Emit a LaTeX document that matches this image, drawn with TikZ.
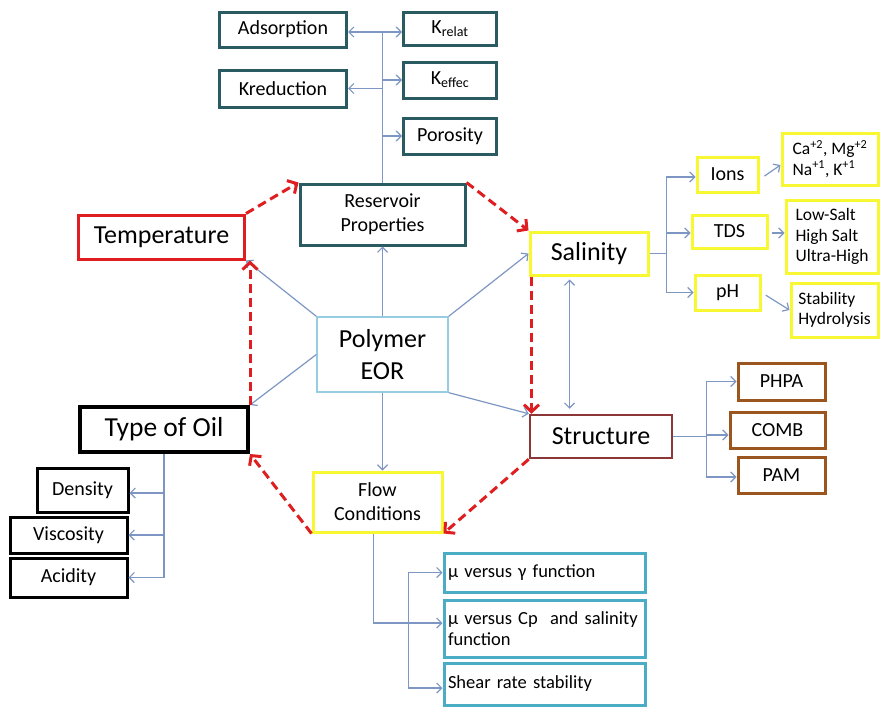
\documentclass[tikz,border=0pt]{standalone}
\usepackage{fontspec}
\setmainfont{Carlito}
\usepackage{tikz}
\usetikzlibrary{positioning, arrows.meta, calc}

\definecolor{resteal}{RGB}{42,90,98}
\definecolor{linkblue}{RGB}{125,150,195}
\definecolor{polyblue}{RGB}{150,205,225}
\definecolor{loopred}{RGB}{222,30,32}
\definecolor{salyellow}{RGB}{248,248,50}
\definecolor{structred}{RGB}{140,55,55}
\definecolor{typebrown}{RGB}{155,85,30}
\definecolor{mublue}{RGB}{75,172,198}

\tikzset{
	box/.style={rectangle, draw, inner sep=4pt, align=center},
	bluelink/.style={draw=linkblue, line width=1.2pt, -{Straight Barb[length=5pt,width=10pt]}},
	blueline/.style={draw=linkblue, line width=1.2pt},
	redlink/.style={draw=loopred, line width=3pt, dash pattern=on 9pt off 5pt,
		-{Straight Barb[length=7pt,width=15pt,line width=3pt]}},
	big/.style={font=\fontsize{26}{32}\selectfont},
	mid/.style={font=\fontsize{20}{24}\selectfont},
	small/.style={font=\fontsize{17.5}{20.5}\selectfont},
}

\begin{document}
\begin{tikzpicture}[x=1pt, y=-1pt]
			
			\useasboundingbox (0,0) rectangle (880,707);
			
			% Centre
			\node[box, big, draw=polyblue, line width=1.3pt, minimum width=131, minimum height=75] (poly) at (382.5,354.5) {Polymer\\EOR};
			
			% Main factors
			\node[box, mid, draw=resteal, line width=3pt, minimum width=165, minimum height=61] (res) at ($(poly) + (0,-140)$) {Reservoir\\Properties};
			
			\node[box, big, draw=loopred, line width=3pt, minimum width=166, minimum height=44] (temp) at ($(poly) + (-221,-117.5)$) {Temperature};
			
			\node[box, big, draw=salyellow, line width=3pt, minimum width=118, minimum height=43] (sal) at ($(poly) + (206.5,-101)$) {Salinity};
			
			\node[box, big, draw=structred, line width=2.5pt, minimum width=142, minimum height=43] (struct) at ($(poly) + (218.5,82)$) {Structure};
			
			\node[box, font=\fontsize{27.5}{32}\selectfont, draw=black, line width=4pt, minimum width=168, minimum height=45] (oil) at ($(poly) + (-218.5,75)$) {Type of Oil};
			
			\node[box, mid, draw=salyellow, line width=3pt, minimum width=129, minimum height=60] (flow) at ($(poly) + (-5,147.5)$) {Flow\\Conditions};
			
			
			% Reservoir properties
			\node[box, mid, draw=resteal, line width=3pt, minimum width=127, minimum height=35] (ads) at ($(res) + (-99.5,-185)$) {Adsorption};
			\node[box, mid, draw=resteal, line width=3pt, minimum width=127, minimum height=37] (kred) at ($(res) + (-99.5,-126)$) {Kreduction};
			\node[box, mid, draw=resteal, line width=3pt, minimum width=93, minimum height=33] (krel) at ($(res) + (67.5,-186)$) {K\textsubscript{relat}};
			\node[box, mid, draw=resteal, line width=3pt, minimum width=93, minimum height=36] (keff) at ($(res) + (67.5,-134.5)$) {K\textsubscript{effec}};
			\node[box, mid, draw=resteal, line width=3pt, minimum width=93, minimum height=36] (poro) at ($(res) + (67.5,-78.5)$) {Porosity};
			
			% Salinity
			\node[box, mid, draw=salyellow, line width=3pt, minimum width=61, minimum height=35] (ions) at ($(sal) + (138.5,-79)$) {Ions};
			\node[box, mid, draw=salyellow, line width=3pt, minimum width=75, minimum height=33] (tds) at ($(sal) + (140.5,-22)$) {TDS};
			\node[box, mid, draw=salyellow, line width=3pt, minimum width=65, minimum height=35] (ph) at ($(sal) + (138.5,39)$) {pH};
			
			\node[box, small, align=left, draw=salyellow, line width=3pt, minimum width=96, minimum height=52] (ca) at ($(sal) + (241,-94.5)$) {Ca\textsuperscript{+2}, Mg\textsuperscript{+2}\\Na\textsuperscript{+1}, K\textsuperscript{+1}};
			\node[box, small, align=left, draw=salyellow, line width=3pt, minimum width=92, minimum height=73] (low) at ($(sal) + (243,-17)$) {Low-Salt\\High Salt\\Ultra-High};
			\node[box, small, align=left, draw=salyellow, line width=3pt, minimum width=87, minimum height=54] (stab) at ($(sal) + (245.5,56.5)$) {Stability\\Hydrolysis};
			
			% Structure
			\node[box, mid, draw=typebrown, line width=3pt, minimum width=87, minimum height=37] (phpa) at ($(struct) + (180.5,-55)$) {PHPA};
			\node[box, mid, draw=typebrown, line width=3pt, minimum width=95, minimum height=36] (comb) at ($(struct) + (176.5,-6.5)$) {COMB};
			\node[box, mid, draw=typebrown, line width=3pt, minimum width=87, minimum height=36] (pam) at ($(struct) + (180.5,38.5)$) {PAM};
			
			% Type of oil
			\node[box, mid, draw=black, line width=3pt, minimum width=91, minimum height=44] (dens) at ($(oil) + (-81.5,60.5)$) {Density};
			\node[box, mid, draw=black, line width=3pt, minimum width=117, minimum height=36] (visc) at ($(oil) + (-95.5,105.5)$) {Viscosity};
			\node[box, mid, draw=black, line width=3pt, minimum width=117, minimum height=39] (acid) at ($(oil) + (-95.5,148)$) {Acidity};
			
			% Flow conditions
			\node[box, font=\fontsize{18.5}{21.5}\selectfont, align=left, text width=193, draw=mublue, line width=3pt, minimum height=39] (mu1) at ($(flow) + (167,70.5)$) {μ versus γ function};
			\node[box, font=\fontsize{18.5}{21.5}\selectfont, align=left, text width=193, draw=mublue, line width=3pt, minimum height=57] (mu2) at ($(flow) + (167,126.5)$) {μ versus Cp~ and salinity\\function};
			\node[box, font=\fontsize{18.5}{21.5}\selectfont, align=left, text width=193, draw=mublue, line width=3pt, minimum height=42] (shear) at ($(flow) + (167,182)$) {Shear rate stability};
			
			
			% Connections from the centre
			\draw[bluelink] (poly.north) -- (res.south);
			\draw[bluelink] (poly.north west) -- (temp.south east);
			\draw[bluelink] (poly.north east) -- (sal.west);
			\draw[bluelink] (poly.west) -- (oil.north east);
			\draw[bluelink] (poly.south east) -- (struct.north west);
			\draw[bluelink] (poly.south) -- (poly.south |- flow.north);
			
			% Loop
			\draw[redlink] (temp.north east) -- (res.north west);
			\draw[redlink] (res.north east) -- (sal.north west);
			\draw[redlink] ([xshift=3]sal.south west) -- ([xshift=3]sal.south west |- struct.north);
			\draw[redlink] (struct.south west) -- (flow.south east);
			\draw[redlink] (flow.south west) -- (oil.south east);
			\draw[redlink] (oil.north east) -- (oil.north east |- temp.south);
			
			\draw[bluelink, {Straight Barb[length=5pt,width=10pt]}-{Straight Barb[length=5pt,width=10pt]}, shorten <=3pt, shorten >=5pt] ([xshift=-80]sal.south east) -- ([xshift=-80]sal.south east |- struct.north);
			
			% Reservoir tree
			\draw[blueline] (res.north) -- ([yshift=-2.5]res.north |- ads.east) coordinate (restop);
			\draw[bluelink] (restop) -- (restop -| ads.east);
			\draw[bluelink] (restop) -- (restop -| krel.west);
			\draw[bluelink] (res.north |- kred.east) -- (kred.east);
			\draw[bluelink] (res.north |- keff.west) -- (keff.west);
			\draw[bluelink] (res.north |- poro.west) -- (poro.west);
			
			% Salinity tree
			\draw[blueline] (sal.east) -- ++(17,0) coordinate (salfork);
			\draw[bluelink] (salfork) |- ([yshift=-2.5]ions.west);
			\draw[bluelink] (salfork) |- ([yshift=-1.5]tds.west);
			\draw[bluelink] (salfork) |- (ph.west);
			\draw[bluelink, shorten <=6pt] ([yshift=-5]ions.east) -- ([yshift=-6]ca.west);
			\draw[bluelink, shorten <=3pt] ([yshift=-1.5]tds.east) -- ([yshift=-1.5]tds.east -| low.west);
			\draw[bluelink, shorten <=5pt] (ph.east) -- (stab.west);
			
			% Structure tree
			\draw[blueline] (struct.east) -- ++(33,0) coordinate (structfork);
			\draw[bluelink] (structfork) |- (phpa.west);
			\draw[bluelink] (structfork) |- ([yshift=-5]comb.west);
			\draw[bluelink] (structfork) |- ([yshift=-2]pam.west);
			
			% Oil tree
			\draw[bluelink] (oil.south) |- ([yshift=-3]dens.east);
			\draw[bluelink] (oil.south) |- (visc.east);
			\draw[bluelink] (oil.south) |- (acid.east);
			
			% Flow tree
			\draw[blueline] ([xshift=-4]flow.south) |- ([xshift=-34,yshift=5.5]mu2.west) coordinate (flowfork);
			\draw[bluelink] (flowfork) |- (mu1.west);
			\draw[bluelink] (flowfork) -- ([yshift=5.5]mu2.west);
			\draw[bluelink] (flowfork) |- ([yshift=-4]shear.west);
			
		\end{tikzpicture}
\end{document}
